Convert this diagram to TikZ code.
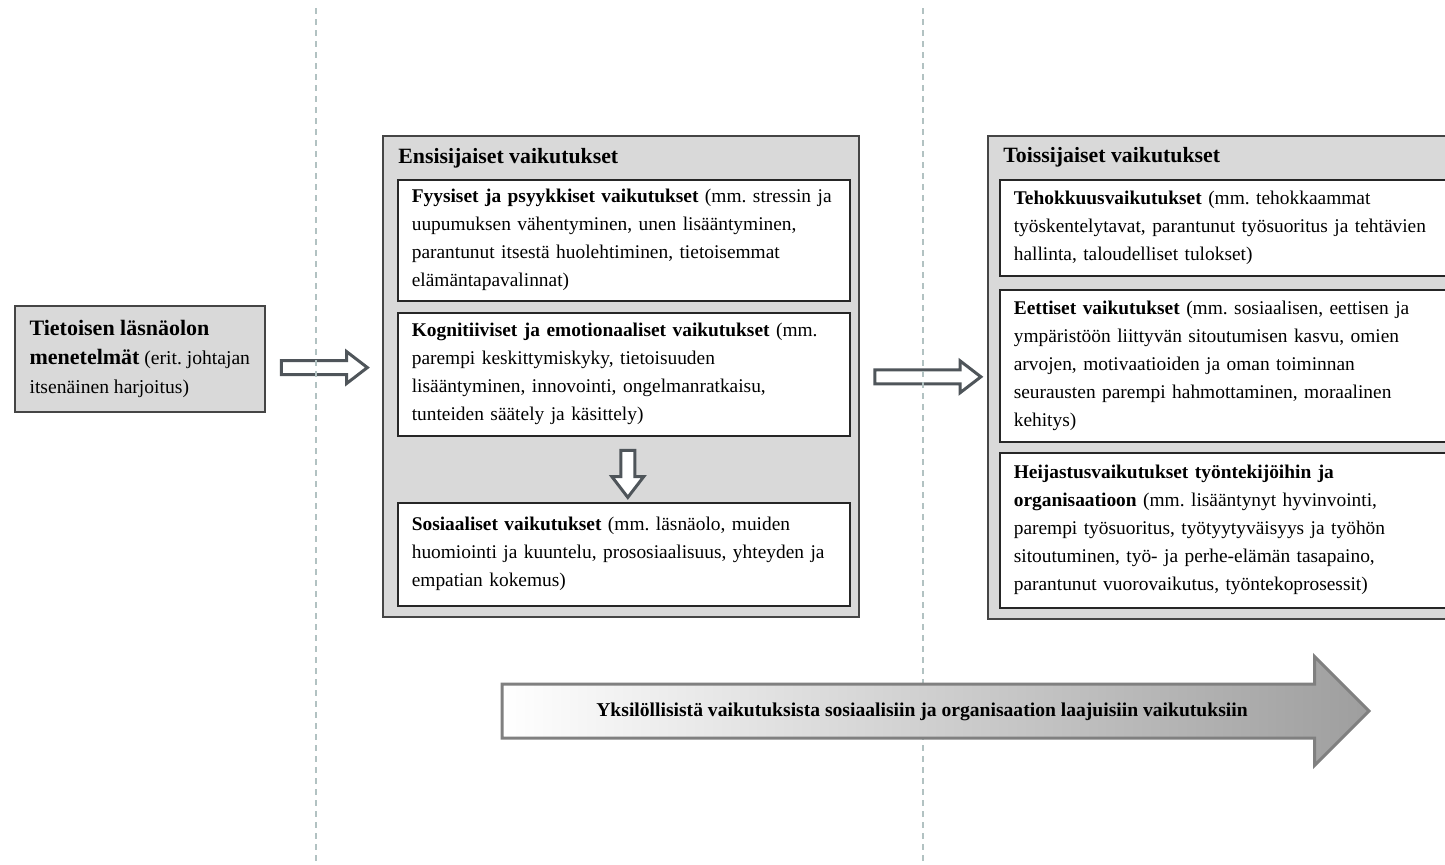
\documentclass[tikz,border=0pt]{standalone}
\usepackage{fontspec}
\setmainfont{Liberation Serif}
\usetikzlibrary{shapes.arrows,calc}

\definecolor{panelGray}{HTML}{D9D9D9}
\definecolor{frameGray}{HTML}{454545}
\definecolor{arrowGray}{HTML}{4F555A}
\definecolor{guideGray}{HTML}{B2C2C2}

\begin{document}
\frenchspacing
\begin{tikzpicture}[%%
  x=0.5pt,y=-0.5pt,%%
  panelStyle/.style={draw=frameGray,line width=0.8pt,fill=panelGray,anchor=north west,inner sep=0pt},%%
  titleStyle/.style={anchor=base west,inner sep=0pt,font=\fontsize{10.9}{13}\selectfont\bfseries},%%
  boxStyle/.style={draw=black!85,line width=0.8pt,fill=white,anchor=north west,align=left,%%
    inner xsep=7pt,inner ysep=3pt,font=\fontsize{9.7}{14}\selectfont},%%
  hollowArrow/.style={single arrow,draw=arrowGray,line width=1.5pt,fill=white,inner xsep=0pt,inner ysep=2.75pt,%%
    minimum width=14.5pt,single arrow head extend=4.5pt,single arrow tip angle=75},%%
  bigArrow/.style={single arrow,draw=black!50,line width=1.5pt,left color=white,right color=black!38,%%
    inner xsep=0pt,inner ysep=8.25pt,text height=7pt,text depth=2pt,minimum width=53pt,%%
    single arrow head extend=13.75pt,font=\fontsize{9.8}{12}\selectfont\bfseries},%%
  guideStyle/.style={draw=guideGray,line width=1pt,dash pattern=on 3pt off 2.5pt}%%
]
\useasboundingbox (0,0) rectangle (1445,864);
%%
%% Corners of the boxes.
\coordinate (Method) at (14,305);
\coordinate (Primary) at (382,135);
\coordinate (Secondary) at (987,135);
\coordinate (Physical) at (397,179);
\coordinate (Cognitive) at (397,312);
\coordinate (Social) at (397,502);
\coordinate (Efficiency) at (999,179);
\coordinate (Ethical) at (999,289);
\coordinate (Reflected) at (999,452);
%%
%% Starting box.
\node (method) at (Method) [panelStyle,align=left,minimum width=125pt,minimum height=53pt,%%
  font=\fontsize{9.8}{14.5}\selectfont] {{\bfseries\fontsize{11}{14.5}\selectfont Tietoisen läsnäolon}\\
  {\bfseries\fontsize{11}{14.5}\selectfont menetelmät} (erit. johtajan\\ itsenäinen harjoitus)};
%%
%% Primary effects.
\node (primary) at (Primary) [panelStyle,minimum width=238pt,minimum height=240.5pt] {};
\node (primaryTitle) at ($(primary.north west)+(16,28)$) [titleStyle] {Ensisijaiset vaikutukset};
\node (physical) at (Physical) [boxStyle,text width=212pt,minimum height=60.5pt]
  {\textbf{Fyysiset ja psyykkiset vaikutukset} (mm. stressin ja\\ uupumuksen vähentyminen, unen lisääntyminen,\\
  parantunut itsestä huolehtiminen, tietoisemmat\\ elämäntapavalinnat)};
\node (cognitive) at (Cognitive) [boxStyle,text width=212pt,minimum height=61.5pt]
  {\textbf{Kognitiiviset ja emotionaaliset vaikutukset} (mm.\\ parempi keskittymiskyky, tietoisuuden\\
  lisääntyminen, innovointi, ongelmanratkaisu,\\ tunteiden säätely ja käsittely)};
\node (social) at (Social) [boxStyle,text width=212pt,minimum height=51.5pt]
  {\textbf{Sosiaaliset vaikutukset} (mm. läsnäolo, muiden\\ huomiointi ja kuuntelu, prososiaalisuus, yhteyden ja\\
  empatian kokemus)};
%%
%% Secondary effects.
\node (secondary) at (Secondary) [panelStyle,minimum width=250pt,minimum height=241.5pt] {};
\node (secondaryTitle) at ($(secondary.north west)+(16,27)$) [titleStyle] {Toissijaiset vaikutukset};
\node (efficiency) at (Efficiency) [boxStyle,text width=226pt,minimum height=48pt]
  {\textbf{Tehokkuusvaikutukset} (mm. tehokkaammat\\ työskentelytavat, parantunut työsuoritus ja tehtävien\\
  hallinta, taloudelliset tulokset)};
\node (ethical) at (Ethical) [boxStyle,text width=226pt,minimum height=76pt]
  {\textbf{Eettiset vaikutukset} (mm. sosiaalisen, eettisen ja\\ ympäristöön liittyvän sitoutumisen kasvu, omien\\
  arvojen, motivaatioiden ja oman toiminnan\\ seurausten parempi hahmottaminen, moraalinen\\ kehitys)};
\node (reflected) at (Reflected) [boxStyle,text width=226pt,minimum height=77.5pt]
  {{\bfseries Heijastusvaikutukset työntekijöihin ja}\\ {\bfseries organisaatioon} (mm. lisääntynyt hyvinvointi,\\
  parempi työsuoritus, työtyytyväisyys ja työhön\\ sitoutuminen, työ- ja perhe-elämän tasapaino,\\
  parantunut vuorovaikutus, työntekoprosessit)};
%%
%% Arrows between the boxes.
\node (toPrimary) at ($(method.east)!0.5!(primary.west)+(-4,0)$) [hollowArrow,minimum height=43pt] {};
\node (toSecondary) at ($(primary.east)!0.5!(secondary.west)$) [hollowArrow,minimum height=53pt] {};
\node (toSocial) at ($(cognitive.south)!0.5!(social.north)+(4,0)$) [hollowArrow,minimum height=23.5pt,rotate=-90] {};
%%
%% Dashed guides.
\draw[guideStyle] (316,8) -- (316,864);
\draw[guideStyle] (923,8) -- (923,864);
%%
%% Scope arrow.
\node (scope) at (922,711) [bigArrow,minimum height=433.5pt]
  {Yksilöllisistä vaikutuksista sosiaalisiin ja organisaation laajuisiin vaikutuksiin};
\end{tikzpicture}
\end{document}
